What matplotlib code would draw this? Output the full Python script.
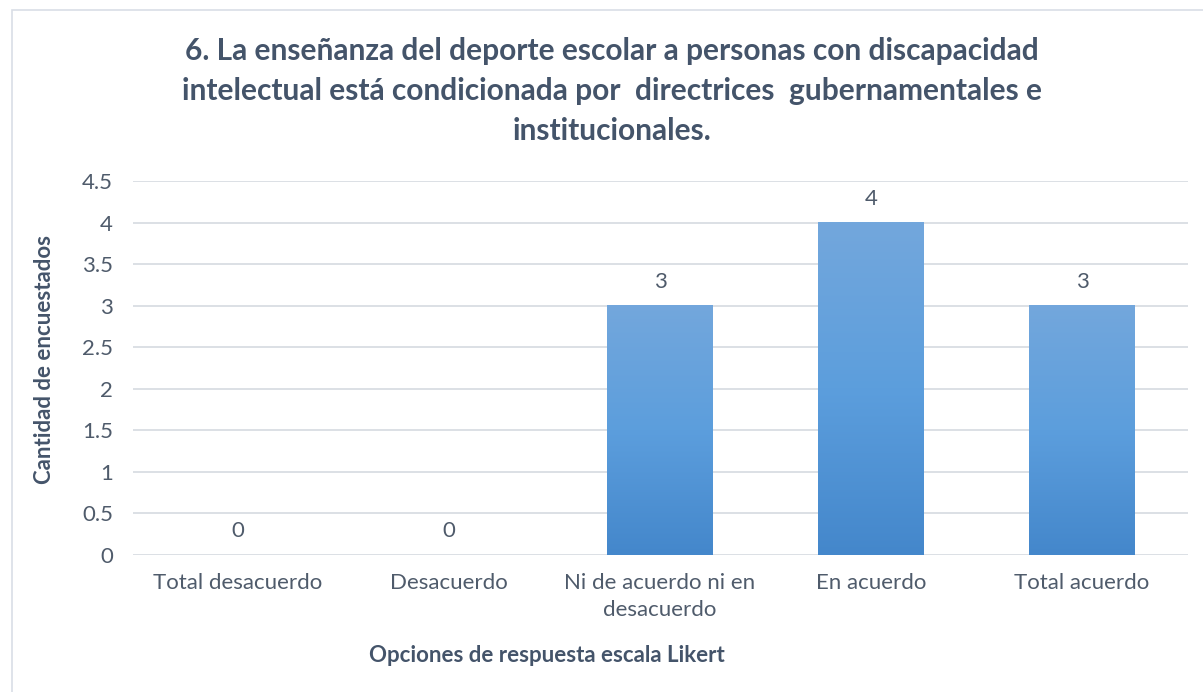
import numpy as np
import matplotlib.pyplot as plt
from matplotlib.patches import Rectangle
from matplotlib.colors import LinearSegmentedColormap

categories = ["Total desacuerdo", "Desacuerdo", "Ni de acuerdo ni en\ndesacuerdo",
              "En acuerdo", "Total acuerdo"]
values = [0, 0, 3, 4, 3]
yticks = [0, 0.5, 1, 1.5, 2, 2.5, 3, 3.5, 4, 4.5]
title = ("6. La enseñanza del deporte escolar a personas con discapacidad\n"
         "intelectual está condicionada por  directrices  gubernamentales e\n"
         "institucionales.")
xlabel = "Opciones de respuesta escala Likert"
ylabel = "Cantidad de encuestados"

plt.rcParams['font.family'] = ['Lato', 'DejaVu Sans']
text_col = '#44546A'
tick_col = '#4F5B6B'

fig = plt.figure(figsize=(12.03, 6.92), dpi=100)
W, H = 1203, 692

# chart frame
fig.patches.append(Rectangle((12 / W, -0.05), 1.2, 1 - 10 / H + 0.05,
                             transform=fig.transFigure, fill=False,
                             edgecolor='#D9DEE6', linewidth=1.2))

ax = fig.add_axes([132.5 / W, 1 - 555 / H, (1187.5 - 132.5) / W, (555 - 181) / H])
x = np.arange(len(categories))

cmap = LinearSegmentedColormap.from_list('bar', ['#4487CB', '#5C9EDD', '#73A7DC'])
grad = np.linspace(0, 1, 256).reshape(-1, 1)
bw = 0.5
bars = ax.bar(x, values, width=bw, color='none', zorder=2)
for b, v in zip(bars, values):
    if v > 0:
        ax.imshow(grad, cmap=cmap, origin='lower', aspect='auto', zorder=2,
                  extent=(b.get_x(), b.get_x() + bw, 0, v))
    ax.annotate(str(v), (b.get_x() + bw / 2, v), xytext=(0, 10), textcoords='offset points',
                ha='center', va='bottom', fontsize=16, color=tick_col)
ax.set_xlim(-0.5, len(categories) - 0.5)
ax.set_ylim(0, 4.5)

ax.set_yticks(yticks)
ax.set_yticklabels([f"{t:g}" for t in yticks])
ax.set_xticks(x)
ax.set_xticklabels(categories, linespacing=1.45)
ax.tick_params(axis='both', length=0, labelsize=16, labelcolor=tick_col)
ax.tick_params(axis='y', pad=14)
ax.tick_params(axis='x', pad=13)
ax.grid(axis='y', color='#D9DDE3', linewidth=1.3, zorder=0)
ax.set_axisbelow(True)
for s in ax.spines.values():
    s.set_visible(False)

fig.text(547 / W, 1 - 655 / H, xlabel, ha='center', va='center', fontsize=16,
         fontweight='bold', color=text_col)
fig.text(45 / W, 1 - 360 / H, ylabel, ha='center', va='center', rotation=90,
         fontsize=16, fontweight='bold', color=text_col)
fig.text(612 / W, 1 - 91 / H, title, ha='center', va='center', fontsize=21.5,
         fontweight='bold', color=text_col, linespacing=1.52)

fig.savefig('out.png', dpi=100)
